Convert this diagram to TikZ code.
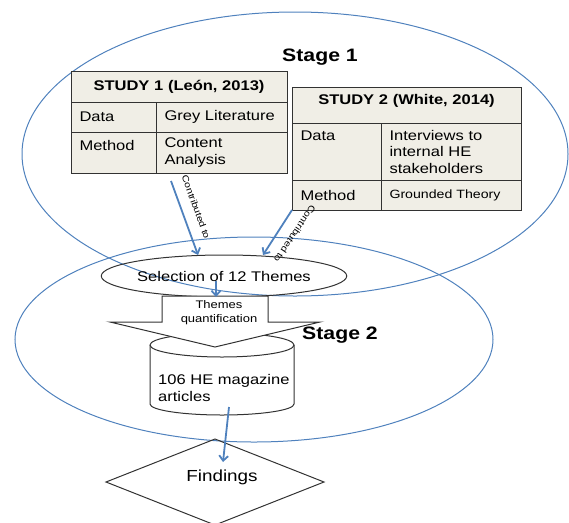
\documentclass[tikz,border=0pt]{standalone}
\usepackage{fontspec}
\setmainfont{Liberation Sans}[FakeStretch=1.18]
\usepackage{xcolor}
\definecolor{stageblue}{RGB}{79,129,189}
\definecolor{cellfill}{RGB}{240,238,230}
\definecolor{framegray}{RGB}{50,50,50}
\usepackage{tikz}
\usetikzlibrary{arrows.meta}
\usetikzlibrary{shapes.geometric}
\newcommand{\widthkeyone}{85pt}
\newcommand{\widthkeytwo}{89pt}
\tikzset{
    stage/.style={draw=stageblue, line width=1pt, ellipse, inner sep=0pt},
    stagelabel/.style={font=\fontsize{18}{20}\selectfont\bfseries},
    common/.style={draw=framegray, line width=1pt, outer sep=0pt},
    cell/.style={common, fill=cellfill, anchor=north west, align=left, inner xsep=8.5pt, inner ysep=5pt, font=\fontsize{14}{16.5}\selectfont},
    headcell/.style={cell, align=center, font=\fontsize{14}{16.5}\selectfont\bfseries},
    themes/.style={common, ellipse, inner sep=0pt, font=\fontsize{14}{16}\selectfont},
    result/.style={common, diamond, inner sep=0pt},
    flow/.style={draw=stageblue, line width=1.8pt, -{Straight Barb[length=5pt, width=9pt]}},
    flowlabel/.style={font=\fontsize{9}{10}\selectfont, inner sep=1pt}
}
\begin{document}
\begin{tikzpicture}[x=1pt, y=-1pt]
  \useasboundingbox (0,0) rectangle (569,522);

  % the two stages
  \node[stage, minimum width=546pt, minimum height=284pt] (stage1) at (295,154) {};
  \node[stage, minimum width=478pt, minimum height=205pt] (stage2) at (254,339.5) {};
  \node[stagelabel] (stage1-name) at (320,57.5) {Stage 1};

  % study 1
  \path (71,71) node[headcell, minimum width=216pt, minimum height=31pt, text width=199pt] (s1-head) {STUDY 1 (León, 2013)}
      ++(270:31pt) node[cell, text width=68pt, minimum height=30pt] (s1-data) {Data}
      +(0:\widthkeyone) node[cell, text width=114pt, minimum height=30pt] (s1-data-val) {Grey Literature}
      ++(270:30pt) node[cell, text width=68pt, text height=13pt, text depth=18pt] (s1-method) {Method}
      +(0:\widthkeyone) node[cell, text width=114pt, minimum height=41pt] (s1-method-val) {Content\\Analysis};

  % study 2
  \path (292,87) node[headcell, minimum width=229pt, text width=212pt, text height=12pt, text depth=14pt] (s2-head) {STUDY 2 (White, 2014)}
      ++(270:36pt) node[cell, text width=72pt, text height=12.2pt, text depth=34.8pt] (s2-data) {Data}
      +(0:\widthkeytwo) node[cell, text width=123pt, minimum height=57pt] (s2-data-val) {Interviews to\\internal HE\\stakeholders}
      ++(270:57pt) node[cell, text width=72pt, minimum height=30pt] (s2-method) {Method}
      +(0:\widthkeytwo) node[cell, text width=123pt, minimum height=30pt, font=\fontsize{12}{14}\selectfont] (s2-method-val) {Grounded Theory};

  \node[themes, minimum width=202pt, minimum height=42pt] (sel) at (224,276) {Selection of 12 Themes};

  % magazine articles, then the quantification arrow over them
  \draw[common, fill=white] (150,345) -- (150,404) arc[start angle=180, end angle=360, x radius=72pt, y radius=11pt] -- (294,345) arc[start angle=0, end angle=180, x radius=72pt, y radius=12pt] -- cycle;
  \draw[common] (150,345) arc[start angle=180, end angle=360, x radius=72pt, y radius=12pt];
  \coordinate (articles-base) at (222,404);
  \node[anchor=west, align=left, inner sep=0pt, font=\fontsize{14}{17}\selectfont] (articles) at (158,387.5) {106 HE magazine\\articles};
  \draw[common, fill=white] (162,296) -- (268,296) -- (268,322) -- (320,322) -- (215,347) -- (110,322) -- (162,322) -- cycle;
  \node[align=center, font=\fontsize{11}{14}\selectfont] (quant) at (219,313) {Themes\\quantification};
  \node[stagelabel] (stage2-name) at (340,335) {Stage 2};

  \node[result, minimum width=218pt, minimum height=86pt] (find) at (215,482) {};
  \node[font=\fontsize{16}{18}\selectfont] (find-text) at (222,477.5) {Findings};

  \draw[flow] ([xshift=15pt, yshift=-8pt]s1-method.south east) -- ([xshift=-26pt]sel.north);
  \draw[flow] (s2-method.south west) -- ([xshift=39pt]sel.north);
  \node[flowlabel, rotate=-70] (contrib1) at (196,207) {Contributed to};
  \node[flowlabel, rotate=-124] (contrib2) at (295,234) {Contributed to};
  \draw[flow] ([xshift=-8pt, yshift=16pt]sel.south) -- ([xshift=-8pt]sel.south);
  \draw[flow] ([xshift=7pt, yshift=-3pt]articles-base) -- ([xshift=8pt, yshift=-23pt]find.north);
\end{tikzpicture}
\end{document}
